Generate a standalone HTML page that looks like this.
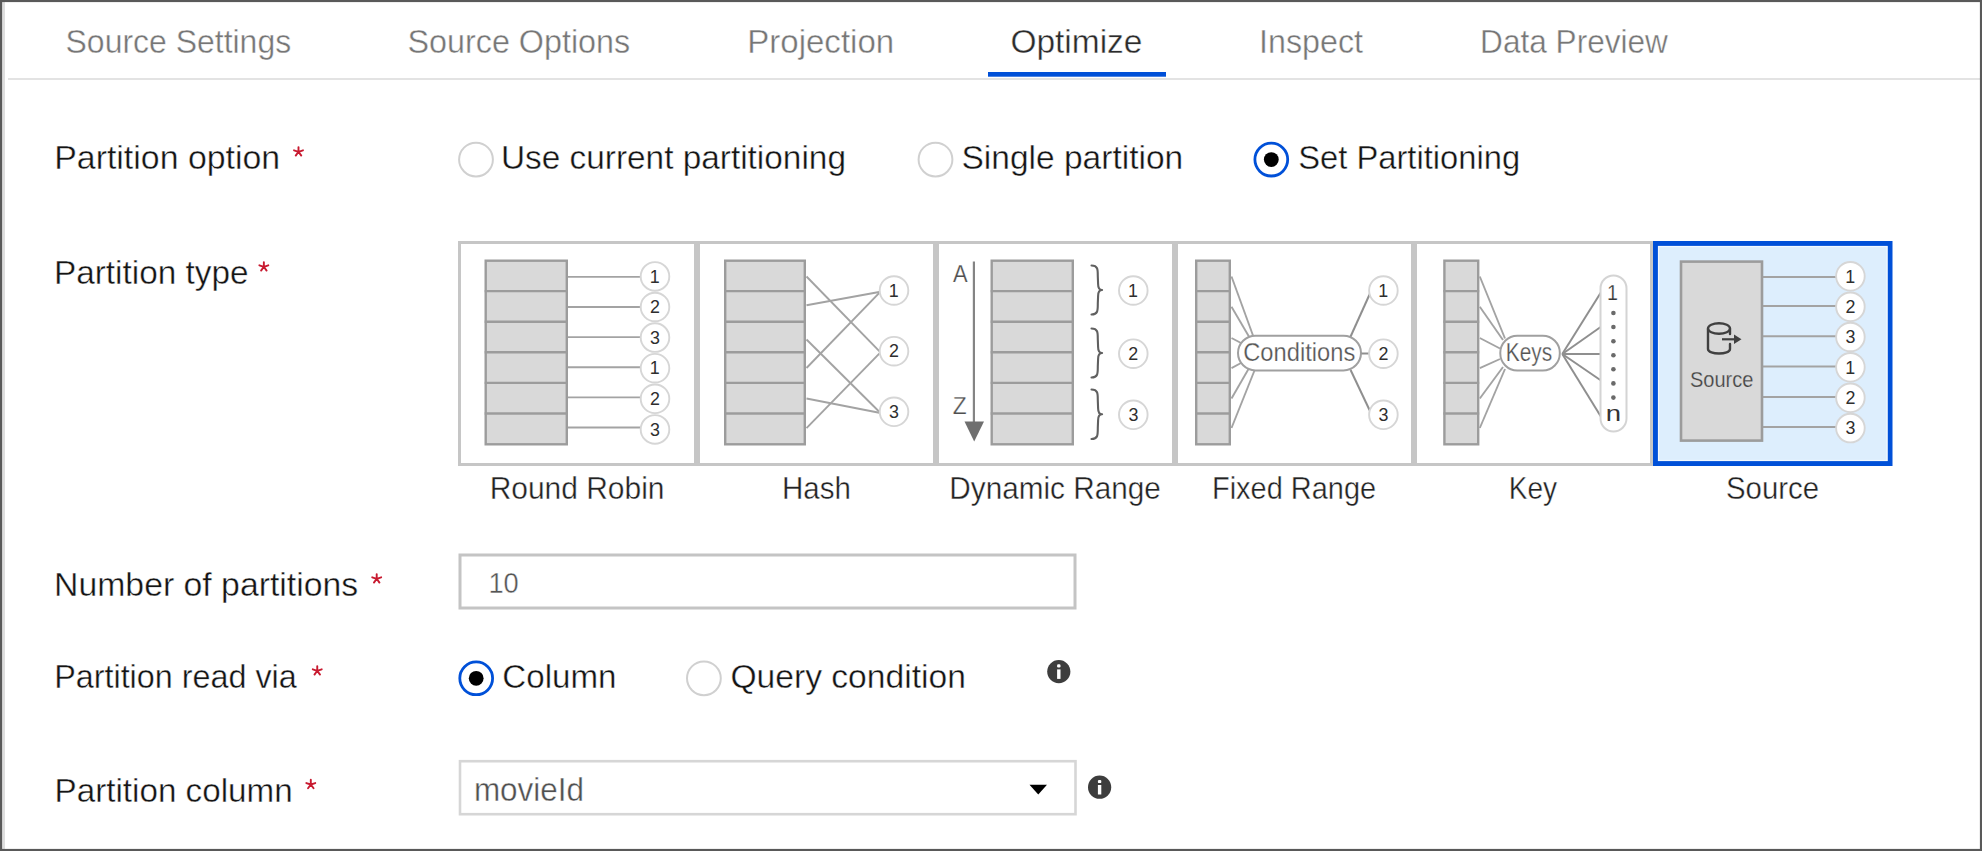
<!DOCTYPE html>
<html><head><meta charset="utf-8"><title>Optimize</title>
<style>
html,body{margin:0;padding:0;background:#fff;width:1982px;height:851px;overflow:hidden}
svg{display:block}
text{font-family:"Liberation Sans",sans-serif;font-kerning:none;font-feature-settings:"kern" 0,"liga" 0}
</style></head><body>
<svg width="1982" height="851" viewBox="0 0 1982 851">
<rect x="0.00" y="0.00" width="1982.00" height="851.00" fill="#ffffff" stroke="none" stroke-width="0.00"/>
<rect x="2.00" y="2.00" width="3.00" height="847.00" fill="#dedede" stroke="none" stroke-width="0.00"/>
<text x="65.55" y="53.30" font-size="33.43" fill="#767676" textLength="225.61" lengthAdjust="spacingAndGlyphs" stroke="#ffffff" stroke-width="0.40">Source Settings</text>
<text x="407.53" y="53.30" font-size="33.43" fill="#767676" textLength="222.63" lengthAdjust="spacingAndGlyphs" stroke="#ffffff" stroke-width="0.40">Source Options</text>
<text x="747.29" y="53.30" font-size="33.43" fill="#767676" textLength="146.85" lengthAdjust="spacingAndGlyphs" stroke="#ffffff" stroke-width="0.40">Projection</text>
<text x="1010.41" y="53.30" font-size="33.43" fill="#2b2b2b" textLength="132.07" lengthAdjust="spacingAndGlyphs" stroke="#ffffff" stroke-width="0.40">Optimize</text>
<text x="1259.02" y="53.30" font-size="33.43" fill="#767676" textLength="104.01" lengthAdjust="spacingAndGlyphs" stroke="#ffffff" stroke-width="0.40">Inspect</text>
<text x="1480.11" y="53.30" font-size="33.43" fill="#767676" textLength="187.81" lengthAdjust="spacingAndGlyphs" stroke="#ffffff" stroke-width="0.40">Data Preview</text>
<rect x="8.00" y="78.00" width="1974.00" height="2.00" fill="#e3e3e3" stroke="none" stroke-width="0.00"/>
<rect x="988.00" y="72.00" width="178.00" height="4.70" fill="#0050d8" stroke="none" stroke-width="0.00"/>
<text x="54.22" y="169.00" font-size="34.01" fill="#141414" textLength="225.98" lengthAdjust="spacingAndGlyphs" stroke="#ffffff" stroke-width="0.40">Partition option</text>
<path d="M298.50 151.80 L298.50 147.10 M298.50 151.80 L302.97 150.35 M298.50 151.80 L301.26 155.60 M298.50 151.80 L295.74 155.60 M298.50 151.80 L294.03 150.35 " fill="none" stroke="#c81a30" stroke-width="1.90" stroke-linecap="round"/>
<text x="53.97" y="284.00" font-size="34.01" fill="#141414" textLength="194.51" lengthAdjust="spacingAndGlyphs" stroke="#ffffff" stroke-width="0.40">Partition type</text>
<path d="M263.85 266.80 L263.85 262.10 M263.85 266.80 L268.32 265.35 M263.85 266.80 L266.61 270.60 M263.85 266.80 L261.09 270.60 M263.85 266.80 L259.38 265.35 " fill="none" stroke="#c81a30" stroke-width="1.90" stroke-linecap="round"/>
<text x="54.03" y="596.00" font-size="34.01" fill="#141414" textLength="304.19" lengthAdjust="spacingAndGlyphs" stroke="#ffffff" stroke-width="0.40">Number of partitions</text>
<path d="M376.70 578.80 L376.70 574.10 M376.70 578.80 L381.17 577.35 M376.70 578.80 L379.46 582.60 M376.70 578.80 L373.94 582.60 M376.70 578.80 L372.23 577.35 " fill="none" stroke="#c81a30" stroke-width="1.90" stroke-linecap="round"/>
<text x="54.15" y="688.00" font-size="34.01" fill="#141414" textLength="242.65" lengthAdjust="spacingAndGlyphs" stroke="#ffffff" stroke-width="0.40">Partition read via</text>
<path d="M317.25 670.80 L317.25 666.10 M317.25 670.80 L321.72 669.35 M317.25 670.80 L320.01 674.60 M317.25 670.80 L314.49 674.60 M317.25 670.80 L312.78 669.35 " fill="none" stroke="#c81a30" stroke-width="1.90" stroke-linecap="round"/>
<text x="54.58" y="801.70" font-size="34.01" fill="#141414" textLength="238.08" lengthAdjust="spacingAndGlyphs" stroke="#ffffff" stroke-width="0.40">Partition column</text>
<path d="M310.80 784.50 L310.80 779.80 M310.80 784.50 L315.27 783.05 M310.80 784.50 L313.56 788.30 M310.80 784.50 L308.04 788.30 M310.80 784.50 L306.33 783.05 " fill="none" stroke="#c81a30" stroke-width="1.90" stroke-linecap="round"/>
<circle cx="476.00" cy="159.60" r="16.90" fill="#ffffff" stroke="#d0d0d0" stroke-width="2.00"/>
<text x="500.93" y="169.00" font-size="34.01" fill="#141414" textLength="345.03" lengthAdjust="spacingAndGlyphs" stroke="#ffffff" stroke-width="0.40">Use current partitioning</text>
<circle cx="935.50" cy="159.60" r="16.90" fill="#ffffff" stroke="#d0d0d0" stroke-width="2.00"/>
<text x="961.48" y="169.00" font-size="34.01" fill="#141414" textLength="221.70" lengthAdjust="spacingAndGlyphs" stroke="#ffffff" stroke-width="0.40">Single partition</text>
<circle cx="1271.30" cy="159.60" r="16.40" fill="#ffffff" stroke="#0050d8" stroke-width="2.80"/>
<circle cx="1271.30" cy="159.60" r="7.40" fill="#000000" stroke="none" stroke-width="0.00"/>
<text x="1298.21" y="169.00" font-size="34.01" fill="#141414" textLength="221.89" lengthAdjust="spacingAndGlyphs" stroke="#ffffff" stroke-width="0.40">Set Partitioning</text>
<circle cx="476.20" cy="678.30" r="16.40" fill="#ffffff" stroke="#0050d8" stroke-width="2.80"/>
<circle cx="476.20" cy="678.30" r="7.40" fill="#000000" stroke="none" stroke-width="0.00"/>
<text x="502.32" y="688.00" font-size="34.01" fill="#141414" textLength="114.24" lengthAdjust="spacingAndGlyphs" stroke="#ffffff" stroke-width="0.40">Column</text>
<circle cx="703.90" cy="678.30" r="16.90" fill="#ffffff" stroke="#d0d0d0" stroke-width="2.00"/>
<text x="730.41" y="688.00" font-size="34.01" fill="#141414" textLength="235.48" lengthAdjust="spacingAndGlyphs" stroke="#ffffff" stroke-width="0.40">Query condition</text>
<circle cx="1058.80" cy="671.60" r="11.60" fill="#3d3d3d" stroke="none" stroke-width="0.00"/>
<rect x="1057.10" y="669.40" width="3.40" height="9.50" fill="#ffffff" stroke="none" stroke-width="0.00"/>
<rect x="1057.10" y="664.30" width="3.40" height="3.20" fill="#ffffff" stroke="none" stroke-width="0.00" rx="1.2"/>
<circle cx="1099.60" cy="787.20" r="11.60" fill="#3d3d3d" stroke="none" stroke-width="0.00"/>
<rect x="1097.90" y="785.00" width="3.40" height="9.50" fill="#ffffff" stroke="none" stroke-width="0.00"/>
<rect x="1097.90" y="779.90" width="3.40" height="3.20" fill="#ffffff" stroke="none" stroke-width="0.00" rx="1.2"/>
<rect x="460.00" y="555.00" width="615.00" height="53.00" fill="#ffffff" stroke="#c4c4c4" stroke-width="3.00"/>
<text x="488.42" y="592.70" font-size="29.65" fill="#555555" textLength="30.34" lengthAdjust="spacingAndGlyphs" stroke="#ffffff" stroke-width="0.40">10</text>
<rect x="460.00" y="761.20" width="615.50" height="53.00" fill="#ffffff" stroke="#d6d6d6" stroke-width="2.60"/>
<text x="473.91" y="800.50" font-size="32.85" fill="#505050" textLength="110.12" lengthAdjust="spacingAndGlyphs" stroke="#ffffff" stroke-width="0.40">movieId</text>
<path d="M1029.5 784.8 L1047 784.8 L1038.25 794.5 Z" fill="#000000" stroke="none" stroke-width="0.00"/>
<rect x="459.50" y="242.50" width="236.00" height="222.00" fill="#ffffff" stroke="#c6c6c6" stroke-width="3.00"/>
<rect x="698.50" y="242.50" width="236.00" height="222.00" fill="#ffffff" stroke="#c6c6c6" stroke-width="3.00"/>
<rect x="937.50" y="242.50" width="236.00" height="222.00" fill="#ffffff" stroke="#c6c6c6" stroke-width="3.00"/>
<rect x="1176.50" y="242.50" width="236.00" height="222.00" fill="#ffffff" stroke="#c6c6c6" stroke-width="3.00"/>
<rect x="1415.50" y="242.50" width="236.00" height="222.00" fill="#ffffff" stroke="#c6c6c6" stroke-width="3.00"/>
<rect x="1655.50" y="243.50" width="234.50" height="220.00" fill="#ddeefd" stroke="#0050d8" stroke-width="5.00"/>
<rect x="1658.50" y="246.50" width="228.50" height="214.00" fill="none" stroke="#f2f9ff" stroke-width="1.20"/>
<rect x="485.70" y="260.70" width="81.10" height="183.60" fill="#d9d9d9" stroke="#9c9c9c" stroke-width="2.40"/>
<line x1="484.70" y1="291.10" x2="567.80" y2="291.10" stroke="#9c9c9c" stroke-width="2.40"/>
<line x1="484.70" y1="321.70" x2="567.80" y2="321.70" stroke="#9c9c9c" stroke-width="2.40"/>
<line x1="484.70" y1="352.30" x2="567.80" y2="352.30" stroke="#9c9c9c" stroke-width="2.40"/>
<line x1="484.70" y1="382.90" x2="567.80" y2="382.90" stroke="#9c9c9c" stroke-width="2.40"/>
<line x1="484.70" y1="413.50" x2="567.80" y2="413.50" stroke="#9c9c9c" stroke-width="2.40"/>
<line x1="568.00" y1="276.90" x2="642.00" y2="276.90" stroke="#a3a3a3" stroke-width="1.90"/>
<line x1="568.00" y1="307.02" x2="642.00" y2="307.02" stroke="#a3a3a3" stroke-width="1.90"/>
<line x1="568.00" y1="337.14" x2="642.00" y2="337.14" stroke="#a3a3a3" stroke-width="1.90"/>
<line x1="568.00" y1="367.26" x2="642.00" y2="367.26" stroke="#a3a3a3" stroke-width="1.90"/>
<line x1="568.00" y1="397.38" x2="642.00" y2="397.38" stroke="#a3a3a3" stroke-width="1.90"/>
<line x1="568.00" y1="427.50" x2="642.00" y2="427.50" stroke="#a3a3a3" stroke-width="1.90"/>
<circle cx="655.00" cy="276.40" r="14.30" fill="#ffffff" stroke="#d6d6d6" stroke-width="1.90"/>
<text x="649.78" y="282.60" font-size="17.88" fill="#2e2e2e" textLength="9.94" lengthAdjust="spacingAndGlyphs">1</text>
<circle cx="655.00" cy="307.00" r="14.30" fill="#ffffff" stroke="#d6d6d6" stroke-width="1.90"/>
<text x="650.03" y="313.20" font-size="17.88" fill="#2e2e2e" textLength="9.94" lengthAdjust="spacingAndGlyphs">2</text>
<circle cx="655.00" cy="337.60" r="14.30" fill="#ffffff" stroke="#d6d6d6" stroke-width="1.90"/>
<text x="650.08" y="343.80" font-size="17.88" fill="#2e2e2e" textLength="9.94" lengthAdjust="spacingAndGlyphs">3</text>
<circle cx="655.00" cy="368.20" r="14.30" fill="#ffffff" stroke="#d6d6d6" stroke-width="1.90"/>
<text x="649.78" y="374.40" font-size="17.88" fill="#2e2e2e" textLength="9.94" lengthAdjust="spacingAndGlyphs">1</text>
<circle cx="655.00" cy="398.80" r="14.30" fill="#ffffff" stroke="#d6d6d6" stroke-width="1.90"/>
<text x="650.03" y="405.00" font-size="17.88" fill="#2e2e2e" textLength="9.94" lengthAdjust="spacingAndGlyphs">2</text>
<circle cx="655.00" cy="429.40" r="14.30" fill="#ffffff" stroke="#d6d6d6" stroke-width="1.90"/>
<text x="650.08" y="435.60" font-size="17.88" fill="#2e2e2e" textLength="9.94" lengthAdjust="spacingAndGlyphs">3</text>
<rect x="725.20" y="260.70" width="79.60" height="183.60" fill="#d9d9d9" stroke="#9c9c9c" stroke-width="2.40"/>
<line x1="724.20" y1="291.10" x2="805.80" y2="291.10" stroke="#9c9c9c" stroke-width="2.40"/>
<line x1="724.20" y1="321.70" x2="805.80" y2="321.70" stroke="#9c9c9c" stroke-width="2.40"/>
<line x1="724.20" y1="352.30" x2="805.80" y2="352.30" stroke="#9c9c9c" stroke-width="2.40"/>
<line x1="724.20" y1="382.90" x2="805.80" y2="382.90" stroke="#9c9c9c" stroke-width="2.40"/>
<line x1="724.20" y1="413.50" x2="805.80" y2="413.50" stroke="#9c9c9c" stroke-width="2.40"/>
<line x1="806.50" y1="276.50" x2="880.50" y2="352.40" stroke="#a3a3a3" stroke-width="1.90"/>
<line x1="806.50" y1="305.20" x2="880.50" y2="291.70" stroke="#a3a3a3" stroke-width="1.90"/>
<line x1="806.50" y1="339.50" x2="880.50" y2="413.00" stroke="#a3a3a3" stroke-width="1.90"/>
<line x1="806.50" y1="368.00" x2="880.50" y2="291.70" stroke="#a3a3a3" stroke-width="1.90"/>
<line x1="806.50" y1="398.50" x2="880.50" y2="413.00" stroke="#a3a3a3" stroke-width="1.90"/>
<line x1="806.50" y1="428.20" x2="880.50" y2="352.40" stroke="#a3a3a3" stroke-width="1.90"/>
<circle cx="894.00" cy="290.50" r="14.30" fill="#ffffff" stroke="#d6d6d6" stroke-width="1.90"/>
<text x="888.78" y="296.70" font-size="17.88" fill="#2e2e2e" textLength="9.94" lengthAdjust="spacingAndGlyphs">1</text>
<circle cx="894.00" cy="351.20" r="14.30" fill="#ffffff" stroke="#d6d6d6" stroke-width="1.90"/>
<text x="889.03" y="357.40" font-size="17.88" fill="#2e2e2e" textLength="9.94" lengthAdjust="spacingAndGlyphs">2</text>
<circle cx="894.00" cy="411.80" r="14.30" fill="#ffffff" stroke="#d6d6d6" stroke-width="1.90"/>
<text x="889.08" y="418.00" font-size="17.88" fill="#2e2e2e" textLength="9.94" lengthAdjust="spacingAndGlyphs">3</text>
<rect x="991.70" y="260.70" width="81.10" height="183.60" fill="#d9d9d9" stroke="#9c9c9c" stroke-width="2.40"/>
<line x1="990.70" y1="291.10" x2="1073.80" y2="291.10" stroke="#9c9c9c" stroke-width="2.40"/>
<line x1="990.70" y1="321.70" x2="1073.80" y2="321.70" stroke="#9c9c9c" stroke-width="2.40"/>
<line x1="990.70" y1="352.30" x2="1073.80" y2="352.30" stroke="#9c9c9c" stroke-width="2.40"/>
<line x1="990.70" y1="382.90" x2="1073.80" y2="382.90" stroke="#9c9c9c" stroke-width="2.40"/>
<line x1="990.70" y1="413.50" x2="1073.80" y2="413.50" stroke="#9c9c9c" stroke-width="2.40"/>
<line x1="973.90" y1="261.50" x2="973.90" y2="424.00" stroke="#848484" stroke-width="2.20"/>
<path d="M964.5 421.5 L984 421.5 L974.2 441.5 Z" fill="#6f6f6f" stroke="none" stroke-width="0.00"/>
<text x="952.96" y="281.50" font-size="24.42" fill="#4f4f4f" textLength="14.59" lengthAdjust="spacingAndGlyphs" stroke="#ffffff" stroke-width="0.25">A</text>
<text x="952.78" y="413.80" font-size="24.71" fill="#4f4f4f" textLength="13.94" lengthAdjust="spacingAndGlyphs" stroke="#ffffff" stroke-width="0.25">Z</text>
<path d="M1091.50 265.50 C1098.00 265.50 1097.80 269.50 1097.80 276.50 L1098.10 284.00 C1098.10 288.50 1100.00 290.00 1102.10 290.00 C1100.00 290.00 1098.10 291.50 1098.10 296.00 L1097.80 303.50 C1097.80 310.50 1098.00 314.50 1091.50 314.50" fill="none" stroke="#606060" stroke-width="2.10" stroke-linecap="round" stroke-linejoin="round"/>
<path d="M1091.50 328.50 C1098.00 328.50 1097.80 332.50 1097.80 339.50 L1098.10 347.00 C1098.10 351.50 1100.00 353.00 1102.10 353.00 C1100.00 353.00 1098.10 354.50 1098.10 359.00 L1097.80 366.50 C1097.80 373.50 1098.00 377.50 1091.50 377.50" fill="none" stroke="#606060" stroke-width="2.10" stroke-linecap="round" stroke-linejoin="round"/>
<path d="M1091.50 389.50 C1098.00 389.50 1097.80 393.50 1097.80 400.50 L1098.10 408.25 C1098.10 412.75 1100.00 414.25 1102.10 414.25 C1100.00 414.25 1098.10 415.75 1098.10 420.25 L1097.80 428.00 C1097.80 435.00 1098.00 439.00 1091.50 439.00" fill="none" stroke="#606060" stroke-width="2.10" stroke-linecap="round" stroke-linejoin="round"/>
<circle cx="1133.30" cy="290.50" r="14.30" fill="#ffffff" stroke="#d6d6d6" stroke-width="1.90"/>
<text x="1128.08" y="296.70" font-size="17.88" fill="#2e2e2e" textLength="9.94" lengthAdjust="spacingAndGlyphs">1</text>
<circle cx="1133.30" cy="353.70" r="14.30" fill="#ffffff" stroke="#d6d6d6" stroke-width="1.90"/>
<text x="1128.33" y="359.90" font-size="17.88" fill="#2e2e2e" textLength="9.94" lengthAdjust="spacingAndGlyphs">2</text>
<circle cx="1133.30" cy="414.80" r="14.30" fill="#ffffff" stroke="#d6d6d6" stroke-width="1.90"/>
<text x="1128.38" y="421.00" font-size="17.88" fill="#2e2e2e" textLength="9.94" lengthAdjust="spacingAndGlyphs">3</text>
<rect x="1196.20" y="260.70" width="33.60" height="183.60" fill="#d9d9d9" stroke="#9c9c9c" stroke-width="2.40"/>
<line x1="1195.20" y1="291.10" x2="1230.80" y2="291.10" stroke="#9c9c9c" stroke-width="2.40"/>
<line x1="1195.20" y1="321.70" x2="1230.80" y2="321.70" stroke="#9c9c9c" stroke-width="2.40"/>
<line x1="1195.20" y1="352.30" x2="1230.80" y2="352.30" stroke="#9c9c9c" stroke-width="2.40"/>
<line x1="1195.20" y1="382.90" x2="1230.80" y2="382.90" stroke="#9c9c9c" stroke-width="2.40"/>
<line x1="1195.20" y1="413.50" x2="1230.80" y2="413.50" stroke="#9c9c9c" stroke-width="2.40"/>
<line x1="1231.50" y1="276.50" x2="1253.00" y2="335.50" stroke="#a3a3a3" stroke-width="1.90"/>
<line x1="1231.50" y1="306.70" x2="1249.50" y2="337.50" stroke="#a3a3a3" stroke-width="1.90"/>
<line x1="1231.50" y1="338.00" x2="1241.00" y2="343.00" stroke="#a3a3a3" stroke-width="1.90"/>
<line x1="1231.50" y1="368.20" x2="1241.00" y2="363.00" stroke="#a3a3a3" stroke-width="1.90"/>
<line x1="1231.50" y1="398.50" x2="1248.50" y2="369.00" stroke="#a3a3a3" stroke-width="1.90"/>
<line x1="1231.50" y1="428.00" x2="1254.50" y2="370.50" stroke="#a3a3a3" stroke-width="1.90"/>
<rect x="1238.00" y="335.70" width="123.00" height="34.70" fill="#ffffff" stroke="#a0a0a0" stroke-width="2.00" rx="17.5" ry="17.5"/>
<text x="1243.20" y="361.30" font-size="25.29" fill="#555555" textLength="112.06" lengthAdjust="spacingAndGlyphs" stroke="#ffffff" stroke-width="0.25">Conditions</text>
<line x1="1350.60" y1="336.50" x2="1370.00" y2="293.50" stroke="#8f8f8f" stroke-width="2.00"/>
<line x1="1361.50" y1="353.50" x2="1369.50" y2="353.50" stroke="#8f8f8f" stroke-width="2.00"/>
<line x1="1350.60" y1="370.00" x2="1370.00" y2="411.00" stroke="#8f8f8f" stroke-width="2.00"/>
<circle cx="1383.40" cy="290.50" r="14.30" fill="#ffffff" stroke="#d6d6d6" stroke-width="1.90"/>
<text x="1378.18" y="296.70" font-size="17.88" fill="#2e2e2e" textLength="9.94" lengthAdjust="spacingAndGlyphs">1</text>
<circle cx="1383.40" cy="353.70" r="14.30" fill="#ffffff" stroke="#d6d6d6" stroke-width="1.90"/>
<text x="1378.43" y="359.90" font-size="17.88" fill="#2e2e2e" textLength="9.94" lengthAdjust="spacingAndGlyphs">2</text>
<circle cx="1383.40" cy="414.80" r="14.30" fill="#ffffff" stroke="#d6d6d6" stroke-width="1.90"/>
<text x="1378.48" y="421.00" font-size="17.88" fill="#2e2e2e" textLength="9.94" lengthAdjust="spacingAndGlyphs">3</text>
<rect x="1444.40" y="260.70" width="33.80" height="183.60" fill="#d9d9d9" stroke="#9c9c9c" stroke-width="2.40"/>
<line x1="1443.40" y1="291.10" x2="1479.20" y2="291.10" stroke="#9c9c9c" stroke-width="2.40"/>
<line x1="1443.40" y1="321.70" x2="1479.20" y2="321.70" stroke="#9c9c9c" stroke-width="2.40"/>
<line x1="1443.40" y1="352.30" x2="1479.20" y2="352.30" stroke="#9c9c9c" stroke-width="2.40"/>
<line x1="1443.40" y1="382.90" x2="1479.20" y2="382.90" stroke="#9c9c9c" stroke-width="2.40"/>
<line x1="1443.40" y1="413.50" x2="1479.20" y2="413.50" stroke="#9c9c9c" stroke-width="2.40"/>
<line x1="1479.80" y1="276.50" x2="1505.00" y2="338.50" stroke="#a3a3a3" stroke-width="1.90"/>
<line x1="1479.80" y1="306.70" x2="1503.00" y2="340.00" stroke="#a3a3a3" stroke-width="1.90"/>
<line x1="1479.80" y1="338.00" x2="1500.00" y2="348.50" stroke="#a3a3a3" stroke-width="1.90"/>
<line x1="1479.80" y1="368.20" x2="1500.00" y2="359.00" stroke="#a3a3a3" stroke-width="1.90"/>
<line x1="1479.80" y1="398.50" x2="1503.00" y2="367.00" stroke="#a3a3a3" stroke-width="1.90"/>
<line x1="1479.80" y1="428.00" x2="1505.00" y2="369.00" stroke="#a3a3a3" stroke-width="1.90"/>
<rect x="1500.30" y="335.70" width="59.50" height="34.70" fill="#ffffff" stroke="#a0a0a0" stroke-width="2.00" rx="17" ry="17"/>
<text x="1505.79" y="361.30" font-size="25.29" fill="#555555" textLength="46.47" lengthAdjust="spacingAndGlyphs" stroke="#ffffff" stroke-width="0.25">Keys</text>
<line x1="1562.30" y1="354.00" x2="1601.00" y2="292.30" stroke="#8f8f8f" stroke-width="2.00"/>
<line x1="1562.30" y1="354.00" x2="1601.00" y2="326.70" stroke="#8f8f8f" stroke-width="2.00"/>
<line x1="1562.30" y1="354.00" x2="1601.00" y2="354.00" stroke="#8f8f8f" stroke-width="2.00"/>
<line x1="1562.30" y1="354.00" x2="1601.00" y2="380.50" stroke="#8f8f8f" stroke-width="2.00"/>
<line x1="1562.30" y1="354.00" x2="1601.00" y2="416.70" stroke="#8f8f8f" stroke-width="2.00"/>
<rect x="1600.50" y="275.50" width="26.00" height="156.00" fill="#ffffff" stroke="#d4d4d4" stroke-width="2.00" rx="13" ry="13"/>
<text x="1607.00" y="299.50" font-size="22.53" fill="#333333" textLength="10.96" lengthAdjust="spacingAndGlyphs" stroke="#ffffff" stroke-width="0.25">1</text>
<circle cx="1613.40" cy="313.00" r="2.30" fill="#6a6a6a" stroke="none" stroke-width="0.00"/>
<circle cx="1613.40" cy="327.00" r="2.30" fill="#6a6a6a" stroke="none" stroke-width="0.00"/>
<circle cx="1613.40" cy="341.30" r="2.30" fill="#6a6a6a" stroke="none" stroke-width="0.00"/>
<circle cx="1613.40" cy="355.30" r="2.30" fill="#6a6a6a" stroke="none" stroke-width="0.00"/>
<circle cx="1613.40" cy="369.20" r="2.30" fill="#6a6a6a" stroke="none" stroke-width="0.00"/>
<circle cx="1613.40" cy="383.40" r="2.30" fill="#6a6a6a" stroke="none" stroke-width="0.00"/>
<circle cx="1613.40" cy="397.60" r="2.30" fill="#6a6a6a" stroke="none" stroke-width="0.00"/>
<text x="1605.67" y="421.30" font-size="21.40" fill="#333333" textLength="15.32" lengthAdjust="spacingAndGlyphs">n</text>
<rect x="1681.00" y="261.60" width="81.00" height="179.00" fill="#d9d9d9" stroke="#9c9c9c" stroke-width="2.60"/>
<line x1="1763.00" y1="277.00" x2="1838.00" y2="277.00" stroke="#a3a3a3" stroke-width="2.00"/>
<line x1="1763.00" y1="306.00" x2="1838.00" y2="306.00" stroke="#a3a3a3" stroke-width="2.00"/>
<line x1="1763.00" y1="336.30" x2="1838.00" y2="336.30" stroke="#a3a3a3" stroke-width="2.00"/>
<line x1="1763.00" y1="366.40" x2="1838.00" y2="366.40" stroke="#a3a3a3" stroke-width="2.00"/>
<line x1="1763.00" y1="397.00" x2="1838.00" y2="397.00" stroke="#a3a3a3" stroke-width="2.00"/>
<line x1="1763.00" y1="427.00" x2="1838.00" y2="427.00" stroke="#a3a3a3" stroke-width="2.00"/>
<circle cx="1850.40" cy="276.30" r="14.30" fill="#ffffff" stroke="#d6d6d6" stroke-width="1.90"/>
<text x="1845.18" y="282.50" font-size="17.88" fill="#2e2e2e" textLength="9.94" lengthAdjust="spacingAndGlyphs">1</text>
<circle cx="1850.40" cy="306.80" r="14.30" fill="#ffffff" stroke="#d6d6d6" stroke-width="1.90"/>
<text x="1845.43" y="313.00" font-size="17.88" fill="#2e2e2e" textLength="9.94" lengthAdjust="spacingAndGlyphs">2</text>
<circle cx="1850.40" cy="337.00" r="14.30" fill="#ffffff" stroke="#d6d6d6" stroke-width="1.90"/>
<text x="1845.48" y="343.20" font-size="17.88" fill="#2e2e2e" textLength="9.94" lengthAdjust="spacingAndGlyphs">3</text>
<circle cx="1850.40" cy="367.30" r="14.30" fill="#ffffff" stroke="#d6d6d6" stroke-width="1.90"/>
<text x="1845.18" y="373.50" font-size="17.88" fill="#2e2e2e" textLength="9.94" lengthAdjust="spacingAndGlyphs">1</text>
<circle cx="1850.40" cy="397.80" r="14.30" fill="#ffffff" stroke="#d6d6d6" stroke-width="1.90"/>
<text x="1845.43" y="404.00" font-size="17.88" fill="#2e2e2e" textLength="9.94" lengthAdjust="spacingAndGlyphs">2</text>
<circle cx="1850.40" cy="428.10" r="14.30" fill="#ffffff" stroke="#d6d6d6" stroke-width="1.90"/>
<text x="1845.48" y="434.30" font-size="17.88" fill="#2e2e2e" textLength="9.94" lengthAdjust="spacingAndGlyphs">3</text>
<path d="M1708 329 L1708 349 C1708 355 1730 355 1730 349 L1730 344 M1730 334 L1730 329" fill="none" stroke="#404040" stroke-width="2.40" stroke-linecap="round"/>
<ellipse cx="1719" cy="328.5" rx="11" ry="5.3" fill="none" stroke="#404040" stroke-width="2.4"/>
<line x1="1722.00" y1="339.30" x2="1736.00" y2="339.30" stroke="#404040" stroke-width="2.20"/>
<path d="M1734 334.5 L1741.5 339.3 L1734 344 Z" fill="#404040" stroke="none" stroke-width="0.00"/>
<text x="1689.89" y="387.00" font-size="22.09" fill="#454545" textLength="63.50" lengthAdjust="spacingAndGlyphs" stroke="#d9d9d9" stroke-width="0.25">Source</text>
<text x="489.64" y="498.80" font-size="31.98" fill="#222222" textLength="174.90" lengthAdjust="spacingAndGlyphs" stroke="#ffffff" stroke-width="0.40">Round Robin</text>
<text x="781.98" y="498.80" font-size="31.98" fill="#222222" textLength="68.94" lengthAdjust="spacingAndGlyphs" stroke="#ffffff" stroke-width="0.40">Hash</text>
<text x="949.36" y="498.80" font-size="31.98" fill="#222222" textLength="211.46" lengthAdjust="spacingAndGlyphs" stroke="#ffffff" stroke-width="0.40">Dynamic Range</text>
<text x="1212.03" y="498.80" font-size="31.98" fill="#222222" textLength="164.06" lengthAdjust="spacingAndGlyphs" stroke="#ffffff" stroke-width="0.40">Fixed Range</text>
<text x="1508.70" y="498.80" font-size="31.98" fill="#222222" textLength="48.36" lengthAdjust="spacingAndGlyphs" stroke="#ffffff" stroke-width="0.40">Key</text>
<text x="1725.97" y="498.80" font-size="31.98" fill="#222222" textLength="93.04" lengthAdjust="spacingAndGlyphs" stroke="#ffffff" stroke-width="0.40">Source</text>
<rect x="1.00" y="1.00" width="1980.00" height="849.00" fill="none" stroke="#595959" stroke-width="2.20"/>
</svg>
</body></html>
